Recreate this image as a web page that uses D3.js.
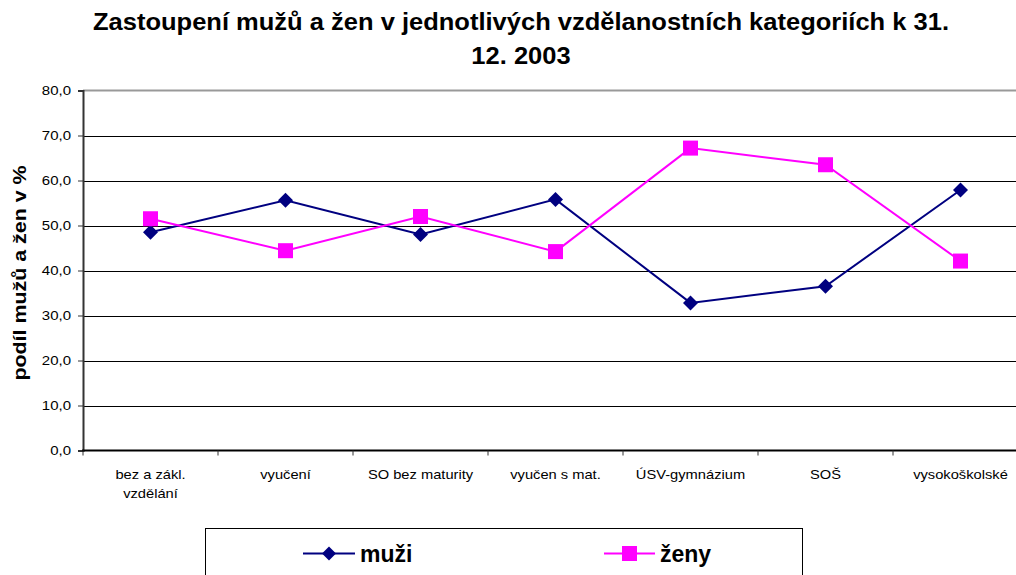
<!DOCTYPE html>
<html><head><meta charset="utf-8">
<script src="https://cdn.jsdelivr.net/npm/d3@7"></script>
<style>body{margin:0;background:#fff;}svg{display:block;font-family:"Liberation Sans",Arial,sans-serif;}</style>
</head><body>
<svg id="c" width="1016" height="575"></svg>
<script>
const categories = [["bez a zákl.","vzdělání"],["vyučení"],["SO bez maturity"],["vyučen s mat."],["ÚSV-gymnázium"],["SOŠ"],["vysokoškolské"]];
const muzi = [48.5, 55.6, 48.0, 55.8, 32.8, 36.5, 57.9];
const zeny = [51.5, 44.4, 52.0, 44.2, 67.2, 63.5, 42.1];
const yTicks = [0,10,20,30,40,50,60,70,80];
const seriesNames = ["muži","ženy"];

const svg = d3.select("#c");
const L = 83, R = 1028, T = 90.5, B = 450.5;
const x = d3.scaleBand().domain(d3.range(categories.length)).range([L, R]);
const y = d3.scaleLinear().domain([0,80]).range([B, T]);

function stext(parent, px, py, str, size, sx, anchor, weight, rot){
  return parent.append("text")
    .attr("transform",`translate(${px},${py})${rot?` rotate(${rot})`:""} scale(${sx},1)`)
    .attr("text-anchor",anchor).attr("font-size",size+"px").attr("font-weight",weight||"normal")
    .attr("fill","#000").text(str);
}

// title
stext(svg,521,30,"Zastoupení mužů a žen v jednotlivých vzdělanostních kategoriích k 31.",23.3,1.095,"middle","bold");
stext(svg,521,64,"12. 2003",23.3,1.095,"middle","bold");

// gridlines
svg.append("g").selectAll("line").data(yTicks.filter(d=>d>0 && d<80)).join("line")
  .attr("x1",L).attr("x2",R).attr("y1",d=>Math.round(y(d))+0.5).attr("y2",d=>Math.round(y(d))+0.5)
  .attr("stroke","#000").attr("stroke-width",1);
svg.append("line").attr("x1",L).attr("x2",R).attr("y1",y(80)).attr("y2",y(80)).attr("stroke","#999").attr("stroke-width",2);

// y axis
const ya = svg.append("g").attr("transform",`translate(${L},0)`)
  .call(d3.axisLeft(y).tickValues(yTicks).tickSize(5).tickFormat(""));
ya.select(".domain").attr("stroke","#333").attr("stroke-width",2);
ya.selectAll(".tick line").attr("stroke","#333");
const yl = svg.append("g");
yTicks.forEach(v=>stext(yl,71,y(v)+4.5,d3.format(".1f")(v).replace(".",","),12.5,1.2,"end"));

// x axis
svg.append("line").attr("x1",L-1).attr("x2",R).attr("y1",B).attr("y2",B).attr("stroke","#000").attr("stroke-width",2);
svg.append("g").selectAll("line").data(d3.range(categories.length+1)).join("line")
  .attr("x1",d=>L+d*x.step()).attr("x2",d=>L+d*x.step()).attr("y1",B).attr("y2",B+5).attr("stroke","#333");
const xg = svg.append("g");
categories.forEach((lines,i)=>lines.forEach((s,j)=>stext(xg,x(i)+x.bandwidth()/2,479+j*19,s,13,1.13,"middle")));

// y label
stext(svg,26,273,"podíl mužů a žen v %",18,1.19,"middle","bold",-90);

const cx = i => x(i)+x.bandwidth()/2;
const line = d3.line().x((d,i)=>cx(i)).y(d=>y(d));
svg.append("path").attr("d",line(muzi)).attr("fill","none").attr("stroke","#000080").attr("stroke-width",2);
svg.append("path").attr("d",line(zeny)).attr("fill","none").attr("stroke","#FF00FF").attr("stroke-width",2);
const diamond = (px,py,r)=>`M${px},${py-r}L${px+r},${py}L${px},${py+r}L${px-r},${py}Z`;
svg.append("g").selectAll("path").data(muzi).join("path")
  .attr("d",(d,i)=>diamond(cx(i),y(d),7.5)).attr("fill","#000080");
svg.append("g").selectAll("rect").data(zeny).join("rect")
  .attr("x",(d,i)=>cx(i)-7.5).attr("y",d=>y(d)-7.5).attr("width",15).attr("height",15).attr("fill","#FF00FF");

// legend
svg.append("rect").attr("x",205.5).attr("y",528.5).attr("width",597).attr("height",60).attr("fill","#fff").attr("stroke","#000").attr("stroke-width",1);
const ly = 553.5;
svg.append("line").attr("x1",303).attr("x2",355).attr("y1",ly).attr("y2",ly).attr("stroke","#000080").attr("stroke-width",2);
svg.append("path").attr("d",diamond(329,ly,7)).attr("fill","#000080");
stext(svg,360,562,seriesNames[0],23,1,"start","bold");
svg.append("line").attr("x1",604).attr("x2",655).attr("y1",ly).attr("y2",ly).attr("stroke","#FF00FF").attr("stroke-width",2);
svg.append("rect").attr("x",622).attr("y",ly-7.5).attr("width",15).attr("height",15).attr("fill","#FF00FF");
stext(svg,660,562,seriesNames[1],23,1,"start","bold");
</script>
</body></html>
